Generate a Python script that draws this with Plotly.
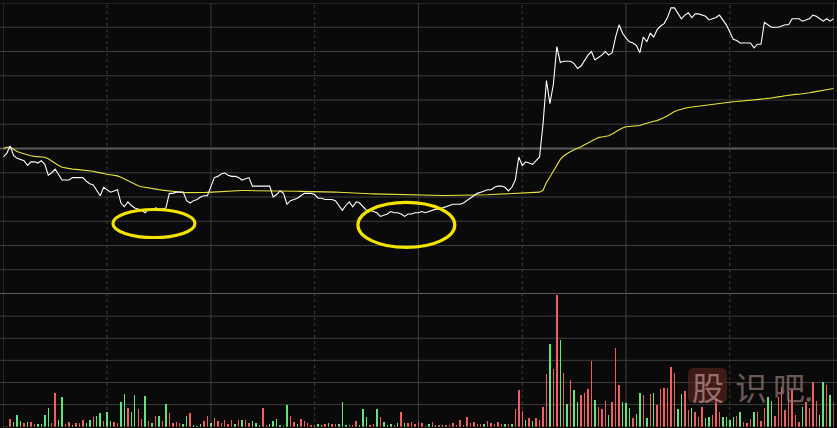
import plotly.graph_objects as go

# ---------------- data ----------------
prev_close = 20.00
price_step = 0.20          # one grid step on the price panel
vol_step = 995             # one grid step on the volume panel

price = [
    19.93, 19.96, 20.02, 19.94, 19.92, 19.91, 19.90, 19.86, 19.89, 19.89,
    19.88, 19.90, 19.87, 19.78, 19.80, 19.83, 19.79, 19.74, 19.74, 19.74,
    19.76, 19.76, 19.76, 19.76, 19.73, 19.71, 19.70, 19.65, 19.61, 19.68,
    19.66, 19.64, 19.65, 19.66, 19.55, 19.52, 19.56, 19.53, 19.51, 19.50,
    19.49, 19.47, 19.50, 19.49, 19.51, 19.50, 19.50, 19.51, 19.63, 19.63,
    19.64, 19.64, 19.64, 19.57, 19.55, 19.57, 19.58, 19.60, 19.61, 19.61,
    19.68, 19.76, 19.77, 19.79, 19.80, 19.78, 19.77, 19.77, 19.76, 19.74,
    19.75, 19.76, 19.69, 19.69, 19.69, 19.69, 19.69, 19.69, 19.60, 19.62,
    19.65, 19.63, 19.54, 19.57, 19.58, 19.59, 19.61, 19.63, 19.63, 19.63,
    19.62, 19.59, 19.59, 19.58, 19.58, 19.58, 19.57, 19.53, 19.49, 19.53,
    19.56, 19.52, 19.56, 19.55, 19.52, 19.49, 19.49, 19.48, 19.47, 19.44,
    19.45, 19.46, 19.48, 19.47, 19.47, 19.46, 19.44, 19.46, 19.46, 19.47,
    19.47, 19.48, 19.47, 19.48, 19.49, 19.50, 19.50, 19.51, 19.52, 19.53,
    19.54, 19.54, 19.54, 19.55, 19.57, 19.59, 19.61, 19.63, 19.64, 19.65,
    19.66, 19.66, 19.68, 19.69, 19.69, 19.68, 19.65, 19.68, 19.74, 19.93,
    19.86, 19.89, 19.88, 19.87, 19.90, 19.93, 20.20, 20.56, 20.37, 20.53,
    20.84, 20.71, 20.72, 20.72, 20.72, 20.70, 20.66, 20.68, 20.73, 20.77,
    20.80, 20.73, 20.75, 20.77, 20.80, 20.77, 20.79, 20.92, 21.02, 20.95,
    20.91, 20.88, 20.87, 20.85, 20.79, 20.92, 20.88, 20.95, 20.92, 20.98,
    21.01, 21.03, 21.08, 21.16, 21.16, 21.11, 21.07, 21.10, 21.12, 21.08,
    21.11, 21.11, 21.10, 21.09, 21.06, 21.07, 21.08, 21.10, 21.06, 21.02,
    20.96, 20.90, 20.89, 20.87, 20.87, 20.87, 20.87, 20.83, 20.86, 20.86,
    21.04, 21.02, 21.00, 21.00, 21.00, 21.01, 21.02, 21.02, 21.07, 21.07,
    21.07, 21.05, 21.06, 21.07, 21.10, 21.09, 21.07, 21.05, 21.07, 21.05,
    21.07,
]

avg_price = [
    20.000, 20.010, 20.010, 19.990, 19.975, 19.965, 19.955, 19.945, 19.940, 19.935,
    19.932, 19.930, 19.928, 19.915, 19.895, 19.875, 19.860, 19.845, 19.838, 19.832,
    19.830, 19.828, 19.826, 19.824, 19.822, 19.820, 19.812, 19.805, 19.798, 19.792,
    19.788, 19.784, 19.780, 19.774, 19.762, 19.748, 19.732, 19.715, 19.702, 19.692,
    19.685, 19.679, 19.674, 19.669, 19.665, 19.661, 19.657, 19.653, 19.648, 19.644,
    19.641, 19.639, 19.637, 19.636, 19.635, 19.635, 19.635, 19.636, 19.637, 19.638,
    19.640, 19.642, 19.644, 19.646, 19.648, 19.650, 19.651, 19.652, 19.652, 19.653,
    19.653, 19.653, 19.653, 19.653, 19.653, 19.653, 19.653, 19.653, 19.652, 19.652,
    19.652, 19.651, 19.650, 19.649, 19.648, 19.647, 19.646, 19.646, 19.645, 19.645,
    19.644, 19.644, 19.643, 19.643, 19.642, 19.641, 19.640, 19.639, 19.637, 19.636,
    19.634, 19.633, 19.632, 19.631, 19.630, 19.628, 19.627, 19.626, 19.625, 19.624,
    19.623, 19.622, 19.621, 19.621, 19.620, 19.619, 19.618, 19.617, 19.616, 19.616,
    19.615, 19.615, 19.614, 19.614, 19.613, 19.613, 19.613, 19.612, 19.612, 19.612,
    19.612, 19.612, 19.612, 19.612, 19.612, 19.612, 19.613, 19.614, 19.615, 19.617,
    19.618, 19.620, 19.621, 19.623, 19.624, 19.625, 19.626, 19.627, 19.628, 19.630,
    19.631, 19.632, 19.633, 19.634, 19.635, 19.640, 19.655, 19.720, 19.765, 19.810,
    19.860, 19.910, 19.940, 19.960, 19.975, 19.990, 20.000, 20.015, 20.030, 20.045,
    20.065, 20.080, 20.090, 20.095, 20.100, 20.105, 20.120, 20.140, 20.155, 20.170,
    20.180, 20.182, 20.183, 20.185, 20.190, 20.200, 20.210, 20.215, 20.225, 20.230,
    20.240, 20.255, 20.270, 20.290, 20.305, 20.315, 20.325, 20.332, 20.338, 20.342,
    20.346, 20.350, 20.354, 20.358, 20.362, 20.366, 20.370, 20.374, 20.378, 20.382,
    20.384, 20.386, 20.388, 20.390, 20.392, 20.394, 20.396, 20.398, 20.400, 20.405,
    20.410, 20.413, 20.416, 20.420, 20.425, 20.430, 20.435, 20.440, 20.443, 20.446,
    20.448, 20.450, 20.455, 20.460, 20.465, 20.470, 20.475, 20.480, 20.485, 20.490,
    20.495,
]

volume = [
    45, 30, 330, 225, 525, 270, 150, 195, 210, 120,
    120, 120, 525, 825, 150, 1500, 300, 1350, 105, 195,
    75, 150, 150, 300, 150, 300, 420, 480, 630, 240,
    645, 240, 225, 150, 1110, 1455, 855, 660, 1425, 795,
    360, 1380, 270, 150, 480, 480, 270, 1020, 600, 150,
    195, 150, 120, 480, 600, 75, 45, 120, 255, 480,
    180, 405, 270, 150, 300, 120, 300, 120, 300, 300,
    300, 180, 255, 150, 75, 855, 75, 120, 255, 360,
    60, 45, 990, 480, 195, 120, 345, 255, 150, 75,
    60, 120, 75, 120, 150, 120, 120, 120, 1110, 60,
    60, 75, 255, 60, 795, 435, 60, 105, 795, 450,
    210, 75, 120, 75, 180, 660, 150, 150, 225, 120,
    225, 150, 45, 120, 225, 60, 75, 60, 75, 60,
    150, 60, 300, 60, 450, 150, 225, 120, 120, 120,
    240, 150, 120, 225, 120, 120, 120, 120, 795, 1650,
    720, 300, 405, 255, 375, 300, 900, 2370, 3720, 2580,
    5925, 3900, 2400, 1020, 2100, 1650, 1095, 1425, 1500, 1695,
    2970, 1200, 900, 780, 1170, 525, 1110, 3525, 1875, 1110,
    1050, 855, 375, 555, 1500, 1425, 405, 1470, 1500, 975,
    1695, 1725, 1725, 2670, 2400, 795, 1470, 1605, 750, 825,
    675, 420, 900, 405, 420, 525, 1230, 675, 450, 450,
    300, 450, 480, 675, 225, 180, 330, 645, 675, 255,
    855, 1320, 1155, 480, 1350, 1770, 750, 1575, 1650, 525,
    225, 900, 1125, 825, 2025, 1170, 525, 2025, 1875, 1425,
    1095,
]

# r = up minute (red bar), g = down minute (green bar)
direction = (
    "rgrgggrgrr" "ggggrrggrr" "grrrggrggr" "ggrrggrggr" "rgrgrgrgrr"
    "rrggrgggrr" "grrrrrrgrg" "rrgggrrggg" "gggrrgrrrr" "rggrgrrggg"
    "rrrgggrrgr" "gggrgrgrrr" "rrggrgrgrr" "rrrrrrrrrg" "rrrrrgrgrr"
    "rgrgrrrrgr" "rgrgrggrrr" "rgrrrgrrrg" "ggrggrgrgr" "rrrrrggrrg"
    "rrrggrrrgg" "ggrgrrrgrr" "rggrrrrrrr" "rgrrrrggrg" "r"
)

minutes = list(range(len(price)))
half_hours = [0, 30, 60, 90, 120, 150, 180, 210, 240]
dotted_marks = [30, 90, 150, 210]

# circled areas (minute span, price span)
ellipses = [
    (31.7, 55.4, 19.266, 19.497),
    (102.5, 130.5, 19.184, 19.555),
]

# ---------------- styling ----------------
BG = "#0a0a0a"
GRID = "#3e3e3e"
GRID_STRONG = "#5c5c5c"
RED = "#f0605e"
GREEN = "#62e47e"
WHITE = "#ffffff"
YELLOW = "#e8e43e"
CIRCLE = "#f2e400"

W, H = 837, 428
x_left, x_right = 3.3, 833.6
y_top, y_sep, y_bot = 3.0, 294.0, 426.7

def py(p):
    return (H - p) / H

bar_colors = [RED if d == "r" else GREEN for d in direction]

fig = go.Figure()

fig.add_trace(go.Bar(
    x=minutes, y=volume, marker=dict(color=bar_colors, line=dict(width=0)),
    width=0.42, xaxis="x2", yaxis="y2", hoverinfo="skip",
))
fig.add_trace(go.Scatter(
    x=minutes, y=avg_price, mode="lines",
    line=dict(color=YELLOW, width=1.1), hoverinfo="skip",
))
fig.add_trace(go.Scatter(
    x=minutes, y=price, mode="lines",
    line=dict(color=WHITE, width=1.1), hoverinfo="skip",
))

shapes = []
# horizontal grid on price panel
for k in range(13):
    lvl = prev_close - 6 * price_step + k * price_step
    strong = k in (0, 6)
    shapes.append(dict(
        type="line", xref="paper", yref="y", x0=0, x1=1, y0=lvl, y1=lvl,
        line=dict(color=GRID_STRONG if strong else GRID, width=2.2 if strong else 1),
        layer="below",
    ))
# horizontal grid on volume panel
for k in range(1, 6):
    lvl = k * vol_step
    shapes.append(dict(
        type="line", xref="paper", yref="y2", x0=0, x1=1, y0=lvl, y1=lvl,
        line=dict(color=GRID, width=1), layer="below",
    ))
# vertical grid
for m in half_hours:
    shapes.append(dict(
        type="line", xref="x", yref="paper", x0=m, x1=m, y0=0, y1=py(y_top),
        line=dict(color=GRID, width=1, dash="dot" if m in dotted_marks else "solid"),
        layer="below",
    ))
# ellipses
for (a0, a1, b0, b1) in ellipses:
    shapes.append(dict(
        type="circle", xref="x", yref="y", x0=a0, x1=a1, y0=b0, y1=b1,
        line=dict(color=CIRCLE, width=3.2), layer="above",
    ))

# watermark box behind "股"
bx0, bx1 = 688 / W, 727 / W
by0, by1 = py(403), py(368)
rx, ry = 6 / W, 6 / H
path = (f"M {bx0+rx},{by0} L {bx1-rx},{by0} Q {bx1},{by0} {bx1},{by0+ry} "
        f"L {bx1},{by1-ry} Q {bx1},{by1} {bx1-rx},{by1} L {bx0+rx},{by1} "
        f"Q {bx0},{by1} {bx0},{by1-ry} L {bx0},{by0+ry} Q {bx0},{by0} {bx0+rx},{by0} Z")
shapes.append(dict(type="path", xref="paper", yref="paper", path=path,
                   fillcolor="rgba(95,38,32,0.62)", line=dict(width=0), layer="above"))

wm_font = "Noto Sans CJK SC"
wm_y = py(386)
annotations = [
    dict(text="股", x=707.5 / W, y=wm_y, xref="paper", yref="paper",
         xanchor="center", yanchor="middle", showarrow=False,
         font=dict(family=wm_font, size=32, color="rgba(185,140,135,0.75)")),
    dict(text="识", x=751 / W, y=wm_y, xref="paper", yref="paper",
         xanchor="center", yanchor="middle", showarrow=False,
         font=dict(family=wm_font, size=32, color="rgba(140,115,112,0.75)")),
    dict(text="吧", x=788.5 / W, y=wm_y, xref="paper", yref="paper",
         xanchor="center", yanchor="middle", showarrow=False,
         font=dict(family=wm_font, size=32, color="rgba(140,115,112,0.75)")),
    dict(text="●", x=808 / W, y=py(398), xref="paper", yref="paper",
         xanchor="center", yanchor="middle", showarrow=False,
         font=dict(family="DejaVu Sans", size=6, color="rgba(140,115,112,0.75)")),
]

fig.update_layout(
    width=W, height=H,
    margin=dict(l=0, r=0, t=0, b=0),
    paper_bgcolor=BG, plot_bgcolor=BG,
    showlegend=False, hovermode=False, bargap=0,
    shapes=shapes, annotations=annotations,
    xaxis=dict(domain=[x_left / W, x_right / W], range=[0, 240], visible=False,
               anchor="y"),
    xaxis2=dict(domain=[x_left / W, x_right / W], range=[0, 240], visible=False,
                anchor="y2", matches="x"),
    yaxis=dict(domain=[py(y_sep), py(y_top)],
               range=[prev_close - 6 * price_step, prev_close + 6 * price_step],
               visible=False, anchor="x"),
    yaxis2=dict(domain=[py(y_bot), py(y_sep)], range=[0, 6 * vol_step],
                visible=False, anchor="x2"),
)

fig.write_html(
    "out.html",
    config={"displayModeBar": False, "staticPlot": True},
    post_script="document.body.style.margin='0';document.body.style.background='#0a0a0a';",
)
